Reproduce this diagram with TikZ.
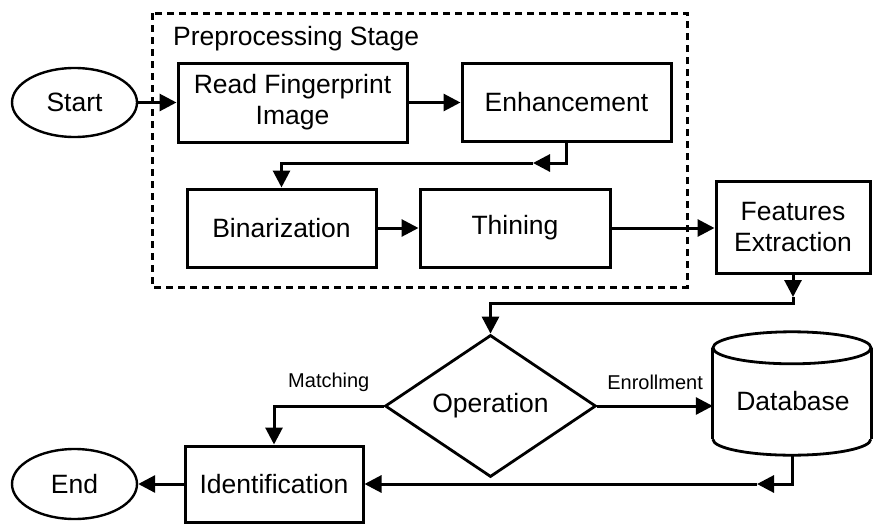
\documentclass[tikz,border=0pt]{standalone}
\usepackage{fontspec}
\setmainfont{Liberation Sans}
\usetikzlibrary{arrows.meta,shapes.geometric,calc}

\begin{document}
\begin{tikzpicture}[x=1pt,y=-1pt,
  txt/.style={font=\fontsize{26.5}{31}\selectfont},
  box/.style={txt,draw,line width=3pt,rectangle,inner sep=0pt,align=center},
  term/.style={txt,draw,line width=2.4pt,ellipse,inner sep=0pt},
  decision/.style={txt,draw,line width=2.8pt,diamond,inner sep=0pt,aspect=1.5},
  conn/.style={line width=3pt,-{Triangle[length=17pt,width=17pt]}},
  lab/.style={font=\fontsize{20}{24}\selectfont},
  stage/.style={line width=3pt,dash pattern=on 7pt off 5pt},
  dbline/.style={line width=2.8pt}
]
\useasboundingbox (0,0) rectangle (873,525);

% preprocessing group
\draw[stage] (152,13) rectangle (687,287);
\node[txt,anchor=base west,inner sep=0pt] (stagelabel) at (173,45) {Preprocessing Stage};

% nodes
\node[term,minimum width=125,minimum height=69] (start) at (74.5,102.5) {Start};
\node[box,minimum width=229,minimum height=79] (read) at (292.5,102.5) {Read Fingerprint\\Image};
\node[box,minimum width=209,minimum height=78] (enh) at (566.5,102.5) {Enhancement};
\node[box,minimum width=189,minimum height=78] (bin) at (281.5,228) {Binarization};
\node[box,minimum width=190,minimum height=78] (thin) at (515,228) {Thining};
\node[box,minimum width=154,minimum height=92] (feat) at (793,227) {Features\\Extraction};
\node[decision,minimum width=211,minimum height=142] (op) at (490.5,406) {Operation};
\node[box,minimum width=178,minimum height=76] (ident) at (274,484) {Identification};
\node[term,minimum width=125,minimum height=70] (end) at (74.5,484) {End};

% database cylinder
\node[rectangle,inner sep=0pt,minimum width=158,minimum height=123] (db) at (792,393.5) {};
\draw[dbline,fill=white] ($(db.south west)+(0,-16)$) arc[start angle=180,end angle=360,x radius=79pt,y radius=16pt];
\fill[white] ($(db.north west)+(0,16)$) rectangle ($(db.south east)+(0,-16)$);
\draw[dbline] ($(db.north west)+(0,16)$) -- ($(db.south west)+(0,-16)$);
\draw[dbline] ($(db.north east)+(0,16)$) -- ($(db.south east)+(0,-16)$);
\draw[dbline,fill=white] ($(db.north)+(0,16)$) ellipse[x radius=79pt,y radius=16pt];
\node[txt] (dbtext) at (793,401) {Database};

% bend points
\coordinate (c1) at (533,163);
\coordinate (c2) at (793,297);
\coordinate (k2) at (793,303);
\coordinate (c3) at (757,484);

% connectors
\draw[conn] (start.east) -- (read.west);
\draw[conn] (read.east) -- (read.east -| enh.west);
\draw[conn] (enh.south) |- (c1);
\draw[conn] (c1) -| (bin.north);
\draw[conn] (bin.east) -- (thin.west);
\draw[conn] (thin.east) -- (thin.east -| feat.west);
\draw[conn] (feat.south) -- (c2);
\draw[conn] (c2) -- (k2) -| (op.north);
\draw[conn] (op.east) -- (op.east -| db.west)
  node[lab,midway,above=11pt] {Enrollment};
\draw[conn] (op.west) -| (ident.north)
  node[lab,pos=0.25,above=10pt] {Matching};
\draw[conn] (db.south) |- (c3);
\draw[conn] (c3) -- (ident.east);
\draw[conn] (ident.west) -- (end.east);
\end{tikzpicture}
\end{document}
